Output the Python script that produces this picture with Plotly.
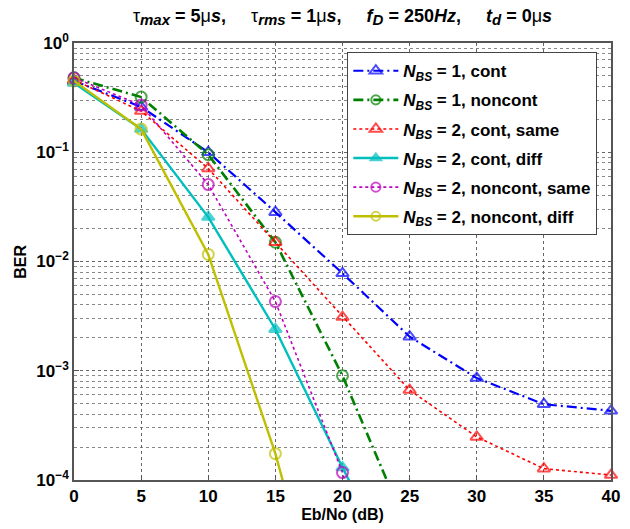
import plotly.graph_objects as go

ebno = [0, 5, 10, 15, 20, 25, 30, 35, 40]

ber_n1_cont = [0.45, 0.26, 0.10, 0.0283, 0.0078, 0.00205, 0.000857, 0.000494, 0.00043]
ber_n1_noncont = [0.48, 0.32, 0.095, 0.015, 0.0009, 3.2e-5]
ber_n2_cont_same = [0.46, 0.238, 0.071, 0.015, 0.0031, 0.000665, 0.000248, 0.000127, 0.000111]
ber_n2_cont_diff = [0.43, 0.163, 0.0255, 0.0024, 0.00013, 8e-6]
ber_n2_noncont_same = [0.48, 0.27, 0.0506, 0.0043, 0.000117, 1e-6]
ber_n2_noncont_diff = [0.45, 0.163, 0.0116, 0.000174, 1e-6]

labels = [
    "<b><i>N</i><sub><i>BS</i></sub> = 1, cont</b>",
    "<b><i>N</i><sub><i>BS</i></sub> = 1, noncont</b>",
    "<b><i>N</i><sub><i>BS</i></sub> = 2, cont, same</b>",
    "<b><i>N</i><sub><i>BS</i></sub> = 2, cont, diff</b>",
    "<b><i>N</i><sub><i>BS</i></sub> = 2, noncont, same</b>",
    "<b><i>N</i><sub><i>BS</i></sub> = 2, noncont, diff</b>",
]

series = [ber_n1_cont, ber_n1_noncont, ber_n2_cont_same, ber_n2_cont_diff,
          ber_n2_noncont_same, ber_n2_noncont_diff]
colors = ["#0000FF", "#008000", "#FF0000", "#00BFBF", "#BF00BF", "#BFBF00"]
dashes = ["10px,4px,2px,4px", "10px,4px,2px,4px", "dot", "solid", "dot", "solid"]
widths = [2.2, 2.6, 1.6, 2.4, 1.6, 2.4]
symbols = ["triangle-up-open", "circle-open", "triangle-up-open", "triangle-up",
           "circle-open", "circle-open"]

fig = go.Figure()
for i, (ys, lab, c, d, w, s) in enumerate(zip(series, labels, colors, dashes, widths, symbols)):
    xs = ebno[:len(ys)]
    sizes = [11 if v >= 1e-4 else 0 for v in ys]
    fig.add_trace(go.Scatter(
        x=xs, y=ys, name=lab, mode="lines+markers", legendgroup="g%d" % i,
        line=dict(color=c, width=w, dash=d),
        marker=dict(symbol=s, size=sizes, color=c, line=dict(color=c, width=2)),
        cliponaxis=False,
    ))

FONT = "Liberation Sans, Arial, sans-serif"
sp = "&nbsp;" * 5


def sub(t):
    return "<sub><span style='font-size:15px'><i>%s</i></span></sub>" % t


title_text = ("<b><span style='font-weight:normal'>τ</span>" + sub("max") + " = 5<span style='font-weight:normal'>μ</span><i>s</i>," + sp +
              "<span style='font-weight:normal'>τ</span>" + sub("rms") + " = 1<span style='font-weight:normal'>μ</span><i>s</i>," + sp +
              "<i>f</i>" + sub("D") + " = 250<i>Hz</i>," + sp +
              "<i>t</i>" + sub("d") + " = 0<span style='font-weight:normal'>μ</span><i>s</i></b>")

fig.update_layout(
    width=630, height=529,
    margin=dict(l=74, r=10, t=43, b=49),
    paper_bgcolor="white", plot_bgcolor="white",
    font=dict(family=FONT, color="black"),
    title=dict(
        text=title_text,
        x=0.5, xref="paper", xanchor="center", y=0.971, yanchor="middle",
        font=dict(size=18, color="black"),
    ),
    showlegend=True,
    legend=dict(
        x=0.509, y=0.979, xanchor="left", yanchor="top",
        bgcolor="white", bordercolor="#444444", borderwidth=1,
        font=dict(size=17, color="black"),
        tracegroupgap=4, itemwidth=45,
    ),
    annotations=[dict(
        text="<b>BER</b>", textangle=-90, xref="paper", yref="paper",
        x=-0.1, y=0.5, xanchor="center", yanchor="middle", showarrow=False,
        font=dict(size=16, color="black", family=FONT),
    )],
)

fig.update_xaxes(
    range=[0, 40], tickvals=[0, 5, 10, 15, 20, 25, 30, 35, 40],
    ticktext=["<b>%d</b>" % v for v in [0, 5, 10, 15, 20, 25, 30, 35, 40]],
    tickfont=dict(family=FONT, size=17, color="black"),
    showline=True, linecolor="#555555", linewidth=1.5, mirror=True,
    ticks="inside", ticklen=5, tickcolor="#555555",
    showgrid=True, gridcolor="#666666", griddash="dot", gridwidth=1,
    zeroline=False,
    title=dict(text="<b>Eb/No (dB)</b>", font=dict(size=16, color="black"), standoff=0),
)

fig.update_yaxes(
    type="log", range=[-4, 0],
    tickvals=[1e-4, 1e-3, 1e-2, 1e-1, 1],
    ticktext=["<b>10<sup>−4</sup></b>", "<b>10<sup>−3</sup></b>", "<b>10<sup>−2</sup></b>",
              "<b>10<sup>−1</sup></b>", "<b>10<sup>0</sup></b>"],
    tickfont=dict(family=FONT, size=17, color="black"),
    showline=True, linecolor="#555555", linewidth=1.5, mirror=True,
    ticks="inside", ticklen=5, tickcolor="#555555",
    showgrid=True, gridcolor="#666666", griddash="dot", gridwidth=1,
    minor=dict(showgrid=True, gridcolor="#888888", griddash="dot", gridwidth=1,
               ticks="inside", ticklen=3, tickcolor="#888888",
               tickvals=[m * 10 ** e for e in range(-4, 0) for m in range(2, 10)]),
    zeroline=False,
)

fig.write_html("out.html", config={"displayModeBar": False},
               post_script="document.body.style.margin='0px';")
